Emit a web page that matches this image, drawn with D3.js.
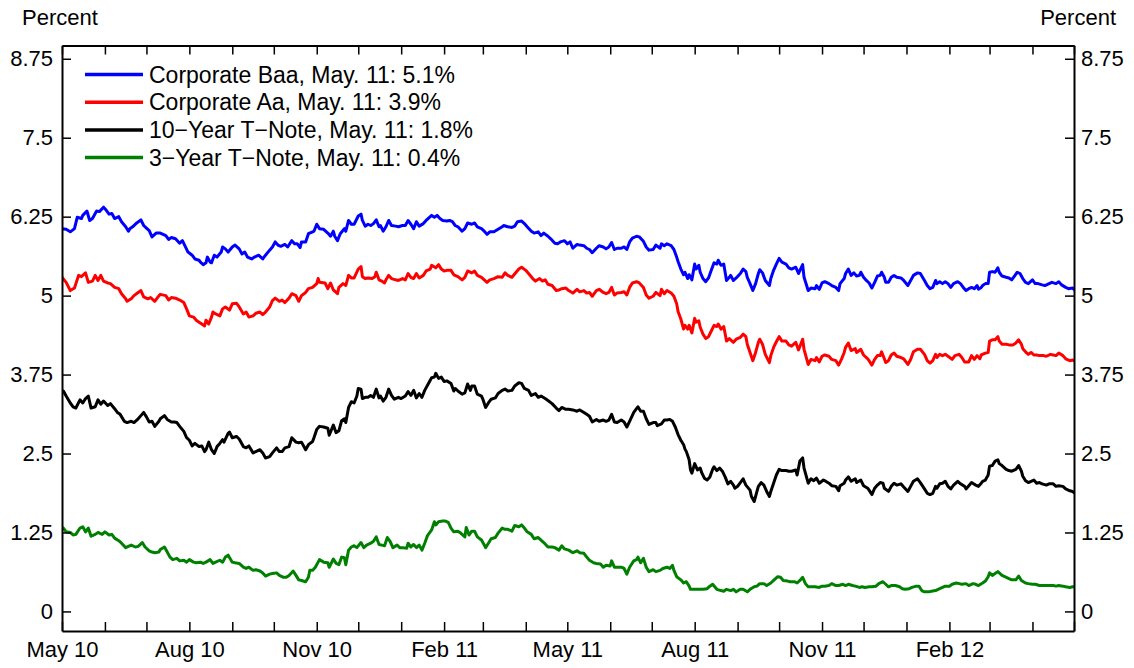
<!DOCTYPE html>
<html>
<head>
<meta charset="utf-8">
<script src="https://cdn.jsdelivr.net/npm/d3@7"></script>
<style>
  html, body { margin: 0; padding: 0; background: #fff; }
  svg { display: block; }
  text { font-family: "Liberation Sans", Arial, Helvetica, sans-serif; fill: #000; }
</style>
</head>
<body>
<svg id="chart" width="1134" height="668"></svg>
<script>
// ---------------- DATA ----------------
const startDate = "2010-05-01";
const endDate = "2012-05-01";
// each point: [days since startDate, percent]
const baa = [[0,6.06],[3,6.05],[6,6.01],[9,6.06],[11,6.24],[14,6.22],[15,6.27],[18,6.34],[20,6.19],[22,6.22],[25,6.34],[27,6.33],[30,6.40],[32,6.35],[34,6.29],[36,6.30],[38,6.22],[41,6.25],[43,6.17],[46,6.09],[48,6.02],[49,6.06],[51,6.09],[54,6.15],[57,6.20],[59,6.11],[61,6.07],[63,6.03],[65,5.93],[68,5.99],[71,5.99],[75,5.95],[77,5.89],[79,5.92],[82,5.90],[85,5.83],[87,5.87],[89,5.78],[91,5.69],[94,5.64],[96,5.58],[99,5.56],[100,5.53],[102,5.49],[104,5.52],[105,5.61],[107,5.53],[108,5.52],[110,5.64],[112,5.61],[115,5.69],[116,5.77],[118,5.74],[120,5.69],[123,5.77],[125,5.80],[128,5.74],[130,5.66],[132,5.69],[134,5.61],[137,5.58],[139,5.61],[142,5.64],[145,5.58],[147,5.64],[150,5.72],[152,5.77],[154,5.85],[156,5.80],[158,5.78],[161,5.81],[163,5.77],[166,5.87],[168,5.82],[170,5.82],[172,5.76],[173,5.85],[176,5.85],[178,5.98],[181,6.01],[182,6.02],[184,6.13],[186,6.06],
[189,6.05],[192,5.99],[194,5.94],[196,6.02],[197,5.94],[199,5.87],[201,5.98],[204,6.06],[205,6.02],[207,6.19],[209,6.13],[211,6.13],[214,6.26],[216,6.29],[217,6.19],[219,6.10],[221,6.13],[223,6.11],[225,6.14],[227,6.20],[229,6.09],[230,6.11],[232,6.02],[234,6.09],[236,6.19],[238,6.11],[241,6.10],[243,6.09],[246,6.11],[248,6.11],[250,6.19],[252,6.13],[254,6.06],[256,6.17],[258,6.10],[261,6.14],[263,6.19],[266,6.25],[267,6.27],[269,6.24],[271,6.27],[273,6.22],[275,6.19],[278,6.18],[280,6.19],[282,6.17],[284,6.11],[286,6.09],[289,6.02],[291,6.06],[293,6.15],[296,6.13],[298,6.15],[300,6.09],[303,6.06],[305,6.02],[307,5.97],[309,6.01],[312,6.01],[315,6.05],[318,6.09],[319,6.11],[322,6.09],[325,6.08],[327,6.10],[329,6.17],[332,6.18],[334,6.14],[336,6.09],[339,6.02],[341,5.99],[344,6.01],[346,5.95],[348,5.99],[351,5.94],[353,5.90],[356,5.83],[358,5.82],[360,5.85],[363,5.87],[365,5.82],[367,5.85],
[369,5.75],[372,5.81],[374,5.80],[377,5.79],[379,5.75],[381,5.73],[383,5.68],[386,5.75],[388,5.79],[391,5.77],[393,5.74],[395,5.77],[397,5.84],[399,5.73],[401,5.75],[404,5.75],[406,5.77],[408,5.73],[410,5.85],[412,5.91],[415,5.94],[417,5.93],[420,5.86],[422,5.77],[424,5.72],[427,5.73],[429,5.80],[432,5.75],[433,5.82],[435,5.79],[437,5.82],[440,5.79],[442,5.73],[444,5.61],[445,5.54],[447,5.42],[449,5.33],[450,5.37],[452,5.27],[453,5.33],[455,5.25],[457,5.50],[458,5.42],[460,5.48],[461,5.37],[463,5.27],[465,5.22],[467,5.28],[469,5.40],[471,5.52],[473,5.50],[474,5.56],[476,5.48],[478,5.50],[480,5.24],[482,5.29],[483,5.32],[485,5.24],[487,5.28],[490,5.35],[492,5.42],[494,5.38],[495,5.29],[497,5.19],[499,5.08],[501,5.19],[503,5.35],[504,5.41],[506,5.36],[508,5.24],[511,5.16],[512,5.27],[514,5.40],[516,5.50],[518,5.59],[520,5.53],[523,5.50],[525,5.44],[527,5.42],[530,5.45],[532,5.35],[535,5.49],[536,5.29],[539,5.08],[541,5.12],[544,5.11],[545,5.16],[547,5.10],[549,5.20],[551,5.22],
[554,5.19],[556,5.16],[559,5.13],[561,5.08],[562,5.19],[565,5.27],[566,5.35],[568,5.42],[570,5.32],[572,5.36],[574,5.31],[576,5.32],[577,5.37],[579,5.29],[581,5.24],[583,5.20],[585,5.12],[587,5.21],[589,5.31],[591,5.32],[592,5.37],[594,5.29],[595,5.21],[597,5.21],[599,5.29],[601,5.32],[603,5.29],[606,5.28],[608,5.24],[611,5.16],[613,5.24],[615,5.32],[618,5.36],[620,5.35],[623,5.24],[625,5.16],[627,5.11],[629,5.13],[631,5.24],[632,5.19],[634,5.22],[636,5.19],[638,5.22],[640,5.19],[642,5.13],[644,5.19],[647,5.22],[649,5.19],[651,5.13],[653,5.08],[655,5.11],[657,5.13],[659,5.11],[661,5.16],[662,5.10],[664,5.13],[665,5.16],[667,5.19],[669,5.19],[670,5.37],[672,5.38],[674,5.37],[676,5.44],[677,5.37],[679,5.31],[682,5.29],[684,5.28],[686,5.25],[688,5.31],[690,5.37],[692,5.35],[694,5.27],[696,5.21],[698,5.19],[699,5.21],[701,5.25],[703,5.19],[705,5.19],[708,5.17],[710,5.16],[713,5.19],[715,5.21],[718,5.19],[720,5.22],[722,5.17],[725,5.13],[727,5.11],[730,5.12],[731,5.10]];

const aa = [[0,5.29],[3,5.21],[6,5.08],[9,5.12],[12,5.32],[14,5.30],[17,5.36],[19,5.21],[22,5.23],[24,5.32],[26,5.24],[28,5.32],[30,5.23],[33,5.20],[35,5.19],[38,5.13],[41,5.11],[43,5.03],[46,4.95],[47,4.91],[50,4.95],[52,5.00],[55,5.05],[57,5.08],[59,4.98],[62,4.95],[64,4.97],[67,4.91],[69,4.97],[71,5.02],[75,5.00],[77,4.93],[79,4.97],[82,4.96],[85,4.93],[88,4.89],[90,4.79],[92,4.68],[95,4.66],[97,4.61],[99,4.58],[101,4.55],[103,4.52],[104,4.61],[106,4.55],[108,4.66],[109,4.74],[111,4.71],[114,4.68],[116,4.79],[118,4.82],[121,4.77],[123,4.87],[126,4.88],[128,4.82],[131,4.71],[133,4.74],[135,4.66],[138,4.68],[140,4.72],[143,4.74],[145,4.70],[147,4.74],[150,4.82],[152,4.92],[154,4.96],[157,4.91],[159,4.93],[161,4.89],[164,4.96],[166,5.03],[169,5.00],[171,4.91],[173,5.00],[176,5.05],[178,5.11],[181,5.13],[184,5.19],[185,5.27],[186,5.21],
[190,5.20],[192,5.11],[194,5.20],[196,5.09],[199,5.03],[200,5.13],[203,5.19],[205,5.16],[207,5.32],[209,5.28],[211,5.28],[214,5.42],[216,5.46],[217,5.30],[219,5.27],[221,5.28],[224,5.27],[226,5.30],[227,5.37],[229,5.25],[231,5.23],[233,5.20],[234,5.25],[236,5.32],[238,5.27],[241,5.25],[243,5.24],[246,5.27],[248,5.25],[250,5.35],[252,5.29],[254,5.27],[256,5.35],[258,5.28],[261,5.32],[263,5.39],[266,5.42],[267,5.48],[270,5.44],[272,5.49],[274,5.42],[276,5.39],[278,5.40],[281,5.40],[283,5.33],[286,5.30],[289,5.25],[291,5.29],[293,5.39],[296,5.36],[298,5.39],[300,5.32],[303,5.29],[305,5.25],[307,5.21],[309,5.25],[312,5.27],[315,5.30],[318,5.29],[320,5.36],[322,5.32],[325,5.29],[328,5.37],[330,5.42],[332,5.45],[335,5.40],[337,5.35],[340,5.27],[342,5.23],[345,5.27],[347,5.23],[349,5.25],[351,5.18],[354,5.16],[357,5.08],[359,5.09],[361,5.11],[364,5.12],[366,5.08],
[369,5.04],[372,5.10],[374,5.06],[377,5.08],[379,5.04],[381,5.05],[383,4.99],[386,5.08],[388,5.10],[391,5.05],[393,5.03],[395,5.05],[397,5.13],[399,5.01],[401,5.04],[404,5.05],[406,5.06],[408,5.01],[410,5.13],[412,5.20],[415,5.22],[417,5.20],[420,5.13],[422,5.01],[424,4.96],[427,4.99],[429,5.05],[432,5.00],[433,5.10],[435,5.03],[437,5.08],[440,5.04],[442,4.99],[444,4.87],[445,4.75],[447,4.63],[449,4.47],[450,4.53],[452,4.47],[453,4.53],[455,4.41],[457,4.64],[458,4.58],[460,4.60],[461,4.50],[463,4.39],[465,4.32],[467,4.35],[469,4.44],[471,4.53],[473,4.51],[474,4.55],[476,4.47],[478,4.51],[480,4.28],[482,4.32],[483,4.30],[485,4.26],[487,4.31],[490,4.34],[492,4.39],[494,4.35],[495,4.23],[497,4.10],[499,3.97],[501,4.10],[503,4.26],[504,4.31],[506,4.23],[508,4.07],[511,3.94],[512,4.05],[514,4.18],[516,4.27],[518,4.35],[520,4.28],[523,4.28],[525,4.22],[527,4.20],[530,4.26],[532,4.14],[535,4.31],[536,4.15],[539,3.91],[541,3.99],[544,3.97],[545,4.02],[547,3.95],[549,4.04],[551,4.06],
[554,4.04],[556,3.99],[559,3.97],[561,3.90],[563,3.99],[565,4.10],[566,4.18],[568,4.25],[570,4.13],[573,4.16],[574,4.10],[577,4.15],[579,4.06],[582,4.00],[583,3.97],[585,3.90],[587,3.99],[589,4.05],[591,4.05],[592,4.11],[594,4.00],[595,3.94],[597,3.97],[599,4.06],[601,4.09],[603,4.04],[606,4.02],[608,4.00],[611,3.91],[613,3.99],[615,4.11],[618,4.15],[620,4.15],[623,4.07],[625,3.97],[627,3.93],[629,3.97],[631,4.07],[632,4.02],[634,4.07],[636,4.05],[638,4.07],[640,4.04],[643,3.99],[645,4.05],[648,4.07],[650,4.02],[652,3.95],[655,3.95],[657,4.05],[659,3.99],[661,4.05],[663,4.00],[664,4.06],[667,4.09],[669,4.10],[670,4.28],[672,4.30],[674,4.30],[676,4.35],[677,4.28],[679,4.23],[682,4.23],[684,4.22],[687,4.22],[689,4.25],[691,4.30],[693,4.23],[694,4.16],[696,4.11],[698,4.07],[700,4.10],[702,4.06],[704,4.06],[706,4.05],[709,4.05],[711,4.04],[714,4.07],[716,4.06],[718,4.05],[720,4.09],[723,4.05],[725,4.00],[728,3.97],[730,3.98],[731,3.97]];

const tnote10 = [[1,3.49],[3,3.41],[6,3.30],[8,3.24],[10,3.22],[13,3.35],[15,3.30],[17,3.37],[19,3.41],[21,3.22],[24,3.24],[26,3.35],[28,3.28],[30,3.33],[33,3.26],[35,3.29],[38,3.21],[40,3.15],[42,3.12],[45,3.01],[47,2.99],[50,3.01],[52,2.99],[55,3.05],[57,3.10],[59,3.15],[61,3.08],[63,3.00],[65,3.01],[67,2.93],[70,3.01],[71,3.05],[74,3.10],[76,3.04],[79,3.00],[81,3.00],[83,2.99],[85,2.93],[88,2.85],[90,2.75],[92,2.71],[94,2.62],[96,2.66],[99,2.61],[101,2.62],[103,2.53],[104,2.56],[106,2.68],[108,2.56],[110,2.50],[112,2.61],[114,2.66],[116,2.72],[117,2.68],[120,2.82],[121,2.84],[123,2.75],[126,2.77],[128,2.73],[131,2.61],[133,2.59],[135,2.62],[138,2.51],[140,2.53],[143,2.56],[145,2.51],[147,2.43],[150,2.45],[152,2.51],[155,2.59],[157,2.53],[159,2.53],[161,2.59],[164,2.61],[166,2.75],[169,2.68],[171,2.67],[173,2.68],[176,2.56],[178,2.64],[181,2.69],[182,2.75],[184,2.88],[186,2.93],
[189,2.92],[192,2.90],[193,2.79],[196,2.95],[198,2.83],[200,2.86],[202,3.02],[204,3.05],[205,2.99],[207,3.23],[209,3.32],[211,3.30],[213,3.41],[214,3.53],[216,3.52],[217,3.37],[219,3.39],[221,3.39],[223,3.42],[225,3.39],[227,3.52],[229,3.38],[230,3.41],[232,3.33],[234,3.39],[236,3.52],[238,3.42],[240,3.36],[243,3.39],[245,3.37],[248,3.41],[250,3.48],[252,3.42],[254,3.50],[256,3.38],[258,3.45],[260,3.39],[262,3.50],[264,3.58],[267,3.70],[269,3.71],[270,3.77],[272,3.69],[274,3.71],[276,3.64],[278,3.65],[281,3.61],[283,3.49],[284,3.53],[286,3.49],[289,3.44],[291,3.46],[293,3.60],[295,3.50],[296,3.57],[298,3.57],[300,3.44],[303,3.41],[304,3.36],[306,3.23],[308,3.30],[310,3.36],[313,3.38],[315,3.45],[318,3.50],[320,3.52],[322,3.49],[325,3.50],[327,3.57],[330,3.62],[332,3.61],[334,3.53],[337,3.50],[339,3.42],[342,3.45],[344,3.39],[346,3.41],[349,3.37],[351,3.34],[354,3.29],[357,3.22],[359,3.18],[361,3.23],[364,3.20],[366,3.20],
[369,3.19],[372,3.17],[374,3.19],[377,3.15],[379,3.12],[381,3.09],[383,3.00],[386,3.04],[388,3.01],[391,3.03],[393,3.01],[395,3.03],[397,3.12],[399,3.00],[401,2.99],[404,3.03],[406,3.00],[408,2.92],[410,3.01],[413,3.15],[415,3.21],[416,3.24],[418,3.17],[420,3.17],[422,3.05],[424,2.96],[427,2.99],[429,2.99],[430,2.94],[433,2.97],[435,3.03],[437,3.03],[439,3.04],[441,3.01],[443,2.92],[445,2.80],[447,2.71],[449,2.64],[450,2.57],[451,2.53],[453,2.40],[454,2.24],[455,2.19],[457,2.34],[459,2.24],[461,2.27],[462,2.20],[464,2.11],[466,2.08],[468,2.13],[470,2.25],[471,2.29],[473,2.23],[475,2.27],[477,2.22],[479,2.13],[481,2.02],[483,2.06],[485,2.00],[486,1.95],[488,1.98],[490,2.04],[492,2.10],[494,2.00],[497,1.92],[498,1.82],[500,1.74],[502,1.90],[503,1.98],[505,2.04],[507,2.00],[509,1.90],[511,1.82],[512,1.90],[514,2.03],[516,2.16],[518,2.25],[520,2.23],[523,2.23],[525,2.22],[527,2.22],[530,2.24],[531,2.16],[533,2.38],[535,2.43],[536,2.27],[539,2.03],[541,2.10],[543,2.07],[545,2.11],[547,2.03],[550,2.08],[551,2.07],
[554,2.03],[556,1.99],[559,1.98],[561,1.91],[562,1.99],[565,2.03],[566,2.08],[568,2.13],[570,2.06],[573,2.10],[574,2.04],[577,2.08],[579,1.99],[582,1.95],[583,1.92],[585,1.85],[587,1.95],[589,2.00],[591,2.04],[593,2.03],[594,1.95],[597,1.90],[599,1.98],[601,2.03],[603,2.00],[606,2.02],[608,1.97],[611,1.90],[613,1.98],[615,2.06],[618,2.10],[620,2.04],[623,1.94],[625,1.87],[627,1.85],[629,1.87],[631,1.98],[632,1.95],[634,2.02],[636,2.03],[638,2.06],[640,1.98],[642,1.94],[644,2.00],[647,2.06],[649,2.02],[652,1.98],[653,1.94],[655,1.99],[657,2.04],[660,2.00],[662,1.98],[664,2.03],[665,2.06],[667,2.08],[669,2.16],[670,2.30],[672,2.31],[674,2.38],[676,2.40],[677,2.34],[679,2.31],[682,2.25],[684,2.23],[686,2.22],[689,2.25],[691,2.31],[693,2.22],[694,2.14],[696,2.07],[698,2.04],[700,2.06],[702,2.08],[704,2.03],[706,2.04],[708,2.02],[711,2.00],[713,2.02],[716,2.02],[718,1.98],[720,1.99],[723,1.98],[725,1.94],[728,1.91],[730,1.90],[731,1.88]];

const tnote3 = [[1,1.32],[3,1.26],[6,1.25],[8,1.21],[10,1.22],[13,1.32],[15,1.34],[17,1.26],[19,1.32],[21,1.19],[24,1.22],[26,1.25],[29,1.22],[31,1.26],[34,1.21],[36,1.22],[38,1.16],[41,1.12],[43,1.08],[46,1.01],[48,1.03],[50,1.05],[53,1.02],[55,1.03],[58,1.09],[60,1.02],[63,0.96],[65,0.94],[67,0.93],[70,0.94],[71,0.98],[74,1.02],[76,0.94],[78,0.86],[80,0.82],[83,0.84],[85,0.80],[88,0.81],[90,0.78],[92,0.82],[95,0.78],[97,0.77],[100,0.78],[102,0.76],[104,0.78],[107,0.82],[109,0.76],[111,0.78],[114,0.81],[116,0.78],[118,0.86],[120,0.89],[123,0.78],[125,0.77],[128,0.76],[131,0.70],[133,0.68],[135,0.70],[138,0.65],[140,0.66],[143,0.64],[145,0.61],[147,0.56],[150,0.59],[152,0.60],[155,0.61],[157,0.57],[160,0.54],[162,0.54],[164,0.57],[167,0.64],[169,0.57],[171,0.50],[173,0.49],[176,0.47],[178,0.54],[179,0.65],[181,0.65],[183,0.70],[186,0.82],
[189,0.78],[192,0.77],[193,0.70],[196,0.83],[198,0.76],[200,0.74],[202,0.86],[204,0.85],[205,0.74],[207,0.97],[209,1.02],[211,1.04],[213,1.01],[216,1.09],[218,1.01],[220,1.05],[223,1.08],[225,1.11],[227,1.18],[229,1.06],[231,1.05],[233,1.04],[235,1.17],[237,1.11],[239,1.01],[242,1.05],[244,1.01],[246,1.01],[249,1.00],[250,1.08],[252,1.02],[254,1.06],[256,1.01],[258,1.05],[260,0.97],[262,1.08],[264,1.20],[267,1.29],[269,1.42],[270,1.37],[272,1.42],[275,1.43],[277,1.43],[279,1.41],[281,1.32],[283,1.26],[286,1.27],[288,1.24],[291,1.18],[292,1.33],[294,1.21],[296,1.27],[298,1.27],[300,1.18],[303,1.13],[304,1.09],[306,1.01],[308,1.08],[310,1.15],[313,1.17],[315,1.24],[318,1.32],[320,1.30],[322,1.30],[325,1.27],[327,1.36],[330,1.34],[332,1.37],[334,1.32],[336,1.26],[339,1.22],[341,1.15],[344,1.17],[346,1.13],[348,1.09],[351,1.02],[354,1.02],[356,1.01],[359,0.97],[361,1.04],[363,0.99],[366,0.97],
[369,0.93],[372,0.96],[374,0.93],[377,0.92],[379,0.86],[381,0.81],[384,0.77],[386,0.76],[389,0.75],[391,0.70],[393,0.73],[396,0.72],[397,0.80],[399,0.70],[401,0.70],[404,0.70],[406,0.68],[408,0.59],[410,0.70],[413,0.80],[415,0.82],[416,0.86],[418,0.77],[420,0.84],[422,0.70],[424,0.63],[427,0.66],[429,0.63],[432,0.65],[434,0.68],[437,0.70],[439,0.68],[441,0.73],[442,0.65],[444,0.55],[447,0.50],[449,0.45],[451,0.47],[453,0.40],[454,0.35],[457,0.35],[460,0.35],[463,0.35],[466,0.36],[468,0.40],[470,0.43],[473,0.35],[476,0.33],[478,0.32],[480,0.35],[483,0.33],[485,0.35],[487,0.31],[490,0.35],[492,0.35],[495,0.31],[497,0.35],[500,0.39],[502,0.40],[504,0.44],[507,0.44],[509,0.41],[512,0.45],[514,0.49],[517,0.55],[519,0.54],[521,0.49],[524,0.48],[526,0.47],[529,0.47],[531,0.45],[533,0.49],[535,0.54],[537,0.44],[539,0.39],[542,0.39],[544,0.39],[547,0.38],[549,0.40],[551,0.40],
[554,0.41],[556,0.44],[559,0.41],[561,0.41],[564,0.43],[566,0.41],[568,0.43],[571,0.41],[573,0.40],[576,0.38],[578,0.39],[580,0.38],[583,0.39],[585,0.39],[588,0.40],[590,0.44],[593,0.47],[595,0.43],[597,0.39],[599,0.41],[602,0.41],[605,0.39],[607,0.36],[609,0.35],[612,0.36],[614,0.38],[617,0.40],[619,0.40],[621,0.33],[623,0.31],[626,0.31],[628,0.32],[631,0.33],[634,0.36],[636,0.38],[638,0.40],[641,0.40],[643,0.43],[646,0.45],[648,0.44],[650,0.43],[653,0.44],[655,0.41],[658,0.44],[660,0.43],[662,0.41],[665,0.45],[667,0.48],[669,0.55],[670,0.61],[672,0.57],[674,0.60],[676,0.63],[679,0.57],[681,0.55],[684,0.52],[686,0.50],[689,0.50],[691,0.56],[693,0.49],[696,0.45],[698,0.44],[701,0.43],[703,0.43],[706,0.41],[708,0.41],[711,0.41],[713,0.41],[716,0.41],[718,0.40],[720,0.41],[723,0.40],[725,0.39],[728,0.38],[730,0.39],[731,0.39]];

const seriesLabels = [
  "Corporate Baa, May. 11: 5.1%",
  "Corporate Aa, May. 11: 3.9%",
  "10\u2212Year T\u2212Note, May. 11: 1.8%",
  "3\u2212Year T\u2212Note, May. 11: 0.4%"
];
const yTickValues = [0, 1.25, 2.5, 3.75, 5, 6.25, 7.5, 8.75];
const yTickLabels = ["0", "1.25", "2.5", "3.75", "5", "6.25", "7.5", "8.75"];
const xLabelMonths = ["Feb", "May", "Aug", "Nov"];
const yDomain = [-0.31, 8.96];
const axisTitle = "Percent";

// ---------------- STYLE / LAYOUT ----------------
const seriesColors = ["#0000ff", "#ff0000", "#000000", "#008000"];
const L = 62, R = 1074, T = 45.5, B = 631;
const FONT = 22;

const svg = d3.select("#chart");
const parse = d3.timeParse("%Y-%m-%d");
const t0 = parse(startDate), t1 = parse(endDate);

const x = d3.scaleTime().domain([t0, t1]).range([L, R]);
const y = d3.scaleLinear().domain(yDomain).range([B, T]);

const series = [baa, aa, tnote10, tnote3];

// clip
svg.append("defs").append("clipPath").attr("id", "plotclip")
  .append("rect").attr("x", L).attr("y", T).attr("width", R - L).attr("height", B - T);

const line = d3.line()
  .x(d => x(d3.timeDay.offset(t0, d[0])))
  .y(d => y(d[1]));

const gLines = svg.append("g").attr("clip-path", "url(#plotclip)");
series.forEach((s, i) => {
  gLines.append("path")
    .datum(s)
    .attr("fill", "none")
    .attr("stroke", seriesColors[i])
    .attr("stroke-width", 3)
    .attr("stroke-linejoin", "round")
    .attr("stroke-linecap", "round")
    .attr("d", line);
});

// axes
const months = d3.timeMonth.every(1);
const lastTick = +t1;
const fmtX = d3.timeFormat("%b %y");
const xFmt = d => (xLabelMonths.includes(d3.timeFormat("%b")(d)) && +d !== lastTick) ? fmtX(d) : "";

function styleAxis(g) {
  g.select(".domain").attr("stroke", "#000").attr("stroke-width", 2);
  g.selectAll(".tick line").attr("stroke", "#000").attr("stroke-width", 1.5);
  g.selectAll(".tick text").attr("font-size", FONT).attr("fill", "#000")
    .attr("font-family", '"Liberation Sans", Arial, sans-serif');
}

svg.append("g").attr("transform", `translate(0,${B})`)
  .call(d3.axisBottom(x).ticks(months).tickFormat(xFmt).tickSize(-9).tickSizeOuter(0).tickPadding(10))
  .call(styleAxis);

svg.append("g").attr("transform", `translate(0,${T})`)
  .call(d3.axisTop(x).ticks(months).tickFormat(() => "").tickSize(-9).tickSizeOuter(0))
  .call(styleAxis);

const yFmt = d => yTickLabels[yTickValues.indexOf(d)];
svg.append("g").attr("transform", `translate(${L},0)`)
  .call(d3.axisLeft(y).tickValues(yTickValues).tickFormat(yFmt).tickSize(-9).tickSizeOuter(0).tickPadding(9))
  .call(styleAxis);

svg.append("g").attr("transform", `translate(${R},0)`)
  .call(d3.axisRight(y).tickValues(yTickValues).tickFormat(yFmt).tickSize(-9).tickSizeOuter(0).tickPadding(7))
  .call(styleAxis);

// axis titles
svg.append("text").attr("x", 22).attr("y", 25).attr("font-size", FONT).text(axisTitle);
svg.append("text").attr("x", 1116).attr("y", 25).attr("text-anchor", "end").attr("font-size", FONT).text(axisTitle);

// legend
const legend = svg.append("g");
seriesLabels.forEach((lab, i) => {
  const ly = 74.5 + i * 27.7;
  legend.append("line").attr("x1", 85).attr("x2", 143).attr("y1", ly).attr("y2", ly)
    .attr("stroke", seriesColors[i]).attr("stroke-width", 3.5);
  legend.append("text").attr("x", 149).attr("y", ly).attr("dy", "0.35em")
    .attr("font-size", 23).text(lab);
});
</script>
</body>
</html>
